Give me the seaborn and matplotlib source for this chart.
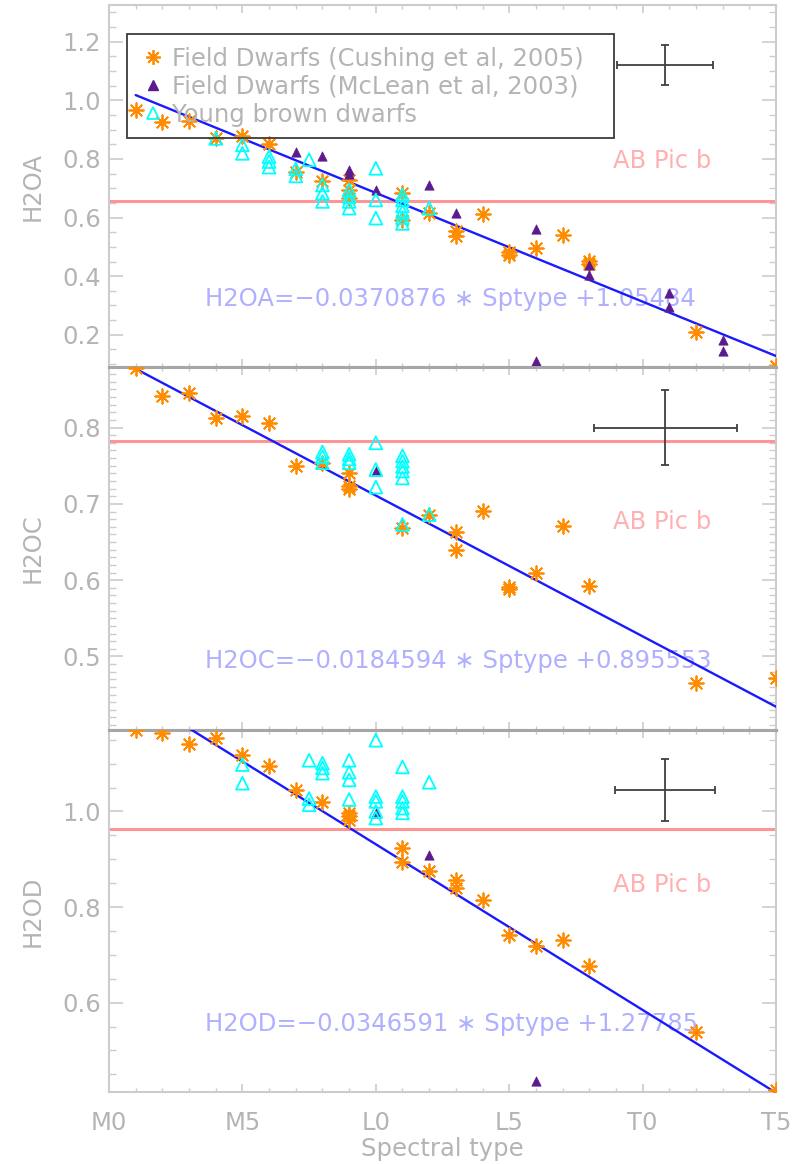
import numpy as np
import pandas as pd
import matplotlib
matplotlib.use("Agg")
import matplotlib.pyplot as plt
from matplotlib.patches import Rectangle
from matplotlib.lines import Line2D
from matplotlib.ticker import MultipleLocator, FormatStrFormatter
import seaborn as sns

sns.set_theme(style="white")
plt.rcParams["font.family"] = ["DejaVu Sans"]

# Spectral type axis: M0 = 0, L0 = 10, T0 = 20
spt_ticks = [0, 5, 10, 15, 20, 25]
spt_labels = ["M0", "M5", "L0", "L5", "T0", "T5"]
index_names = ["H2OA", "H2OC", "H2OD"]

# --- H2OA -------------------------------------------------------------
cush_a_x = [1, 2, 3, 4, 5, 6, 7, 8, 9, 9, 9, 11, 11, 12, 13, 13, 14, 15, 15, 16, 17, 18, 18, 22, 25]
cush_a_y = [0.967, 0.926, 0.930, 0.873, 0.879, 0.851, 0.757, 0.723, 0.728, 0.695, 0.668, 0.684, 0.592,
            0.616, 0.553, 0.538, 0.612, 0.483, 0.473, 0.496, 0.539, 0.452, 0.440, 0.211, 0.092]
mcl_a_x = [7, 8, 9, 9, 10, 12, 13, 16, 16, 18, 18, 21, 21, 23, 23]
mcl_a_y = [0.825, 0.810, 0.762, 0.748, 0.694, 0.711, 0.615, 0.560, 0.111, 0.438, 0.405, 0.343, 0.296,
           0.183, 0.145]
yng_a_x = [4, 5, 5, 6, 6, 6, 7, 7, 7.5, 8, 8, 8, 9, 9, 9, 9, 10, 10, 10, 11, 11, 11, 11, 11, 11, 12]
yng_a_y = [0.870, 0.848, 0.819, 0.808, 0.791, 0.772, 0.766, 0.742, 0.797, 0.711, 0.683, 0.655, 0.694,
           0.672, 0.655, 0.632, 0.768, 0.660, 0.598, 0.677, 0.660, 0.640, 0.620, 0.600, 0.580, 0.632]

# --- H2OC -------------------------------------------------------------
cush_c_x = [1, 2, 3, 4, 5, 6, 7, 8, 9, 9, 9, 11, 12, 13, 13, 14, 15, 15, 16, 17, 18, 22, 25]
cush_c_y = [0.878, 0.841, 0.846, 0.812, 0.815, 0.806, 0.749, 0.753, 0.741, 0.723, 0.720, 0.668, 0.686,
            0.663, 0.639, 0.691, 0.591, 0.588, 0.609, 0.671, 0.592, 0.465, 0.472]
mcl_c_x = [10]
mcl_c_y = [0.743]
yng_c_x = [8, 8, 8, 9, 9, 9, 10, 10, 10, 11, 11, 11, 11, 11, 11, 12]
yng_c_y = [0.768, 0.762, 0.754, 0.765, 0.759, 0.754, 0.780, 0.745, 0.722, 0.763, 0.756, 0.749, 0.743,
           0.734, 0.673, 0.686]

# --- H2OD -------------------------------------------------------------
cush_d_x = [1, 2, 3, 4, 5, 6, 7, 8, 9, 9, 9, 11, 11, 12, 13, 13, 14, 15, 16, 17, 18, 22, 25]
cush_d_y = [1.171, 1.164, 1.142, 1.154, 1.119, 1.096, 1.044, 1.019, 0.997, 0.990, 0.983, 0.923, 0.895,
            0.876, 0.857, 0.840, 0.815, 0.742, 0.719, 0.730, 0.677, 0.539, 0.417]
mcl_d_x = [10, 12, 16]
mcl_d_y = [0.997, 0.909, 0.435]
yng_d_x = [5, 5, 7.5, 7.5, 7.5, 8, 8, 8, 9, 9, 9, 9, 10, 10, 10, 10, 10, 11, 11, 11, 11, 11, 12]
yng_d_y = [1.098, 1.059, 1.107, 1.027, 1.014, 1.101, 1.091, 1.080, 1.107, 1.082, 1.066, 1.025, 1.149,
           1.031, 1.021, 1.000, 0.986, 1.093, 1.031, 1.021, 1.007, 0.997, 1.061]

# Linear fits of index vs spectral type
fit_slope = [-0.0370876, -0.0184594, -0.0346591]
fit_intercept = [1.05484, 0.895553, 1.27785]
fit_range = [1, 25]

# AB Pic b measured index values and representative uncertainty
abpic_value = [0.657, 0.782, 0.964]
err_x = 20.85
err_y = [1.119, 0.800, 1.044]
err_xerr = [1.80, 2.67, 1.87]
err_yerr = [0.068, 0.049, 0.065]

# Axis ranges and tick steps for each panel
y_limits = [(0.089, 1.325), (0.404, 0.879), (0.413, 1.171)]
y_major = [0.2, 0.1, 0.2]
y_minor = [0.05, 0.01, 0.05]
abpic_text_y = [0.794, 0.676, 0.846]
eq_text_y = [0.323, 0.494, 0.555]

panels = [
    (cush_a_x, cush_a_y, mcl_a_x, mcl_a_y, yng_a_x, yng_a_y),
    (cush_c_x, cush_c_y, mcl_c_x, mcl_c_y, yng_c_x, yng_c_y),
    (cush_d_x, cush_d_y, mcl_d_x, mcl_d_y, yng_d_x, yng_d_y),
]

ORANGE = "#ff8c00"
PURPLE = "#5b1a8e"
CYAN = "#00ffff"
FIT = "#1a1aff"
ABLINE = "#ff9494"
ABTEXT = "#ffb0b0"
EQTEXT = "#b0b0ff"
GREY_TXT = "#b4b4b4"
SPINE = "#cccccc"
INNER = "#a6a6a6"
FS = 17.5

W, H = 798, 1164
fig = plt.figure(figsize=(W / 100, H / 100), dpi=100)
gs = fig.add_gridspec(3, 1, left=109 / W, right=776 / W, top=1 - 5 / H,
                      bottom=1 - 1092 / H, hspace=0)

asterisk = (8, 2, 0)
axes = []
for i, (cx, cy, mx, my, yx, yy) in enumerate(panels):
    ax = fig.add_subplot(gs[i])
    axes.append(ax)
    ax.set_xlim(0, 25)
    ax.set_ylim(*y_limits[i])

    ax.axhline(abpic_value[i], color=ABLINE, lw=2.2, zorder=1)
    ax.text(20.73, abpic_text_y[i], "AB Pic b", color=ABTEXT, fontsize=FS,
            ha="center", va="center", zorder=1)
    eq = f"{index_names[i]}=\u2212{abs(fit_slope[i]):g} \u2217 Sptype +{fit_intercept[i]:g}"
    ax.text(3.6, eq_text_y[i], eq, color=EQTEXT, fontsize=FS, ha="left",
            va="center", zorder=1)

    fx = np.array(fit_range, dtype=float)
    fit_df = pd.DataFrame({"spt": fx, "idx": fit_slope[i] * fx + fit_intercept[i]})
    sns.lineplot(data=fit_df, x="spt", y="idx", color=FIT, lw=1.7, ax=ax, zorder=3)

    sns.scatterplot(x=cx, y=cy, marker=asterisk, color=ORANGE, s=110,
                    linewidth=1.3, ax=ax, zorder=4)
    sns.scatterplot(x=mx, y=my, marker="^", color=PURPLE, s=45,
                    edgecolor=PURPLE, linewidth=0.5, ax=ax, zorder=5)
    sns.scatterplot(x=yx, y=yy, marker="^", color=CYAN, s=85,
                    facecolor="none", edgecolor=CYAN, linewidth=1.3, ax=ax, zorder=6)

    ax.errorbar(err_x, err_y[i], xerr=err_xerr[i], yerr=err_yerr[i], fmt="none",
                ecolor="#404040", elinewidth=1.3, capsize=2.8, capthick=1.3, zorder=7)

    # ticks and frame
    ax.xaxis.set_major_locator(MultipleLocator(5))
    ax.xaxis.set_minor_locator(MultipleLocator(1))
    ax.yaxis.set_major_locator(MultipleLocator(y_major[i]))
    ax.yaxis.set_minor_locator(MultipleLocator(y_minor[i]))
    ax.yaxis.set_major_formatter(FormatStrFormatter("%.1f"))
    ax.tick_params(axis="both", which="both", direction="in", colors=SPINE,
                   labelcolor=GREY_TXT, labelsize=FS, top=True, right=True,
                   bottom=True, left=True)
    ax.tick_params(axis="y", which="major", length=10, width=1.2, pad=6)
    ax.tick_params(axis="y", which="minor", length=5, width=1.0)
    ax.tick_params(axis="x", which="major", length=5.5, width=1.2, pad=14)
    ax.tick_params(axis="x", which="minor", length=3, width=1.0)
    for side, sp in ax.spines.items():
        sp.set_color(SPINE)
        sp.set_linewidth(1.5)
    if i > 0:
        ax.spines["top"].set_color(INNER)
        ax.spines["top"].set_linewidth(2.2)
    if i < 2:
        ax.spines["bottom"].set_color(INNER)
        ax.spines["bottom"].set_linewidth(2.2)
        ax.set_xticklabels([])
        ax.set_xlabel("")
    else:
        ax.set_xticks(spt_ticks)
        ax.set_xticklabels(spt_labels)
        ax.set_xlabel("Spectral type", color=GREY_TXT, fontsize=FS, va="center")
        ax.xaxis.set_label_coords(0.5, -0.157)

    ax.set_ylabel(index_names[i], color=GREY_TXT, fontsize=FS, va="center")
    ax.yaxis.set_label_coords(-0.114, 0.5)
    ax.grid(False)

# Legend in the top panel
ax0 = axes[0]
handles = [
    Line2D([], [], ls="none", marker=asterisk, color=ORANGE, markersize=10.5, mew=1.3),
    Line2D([], [], ls="none", marker="^", color=PURPLE, markersize=6.7),
    Line2D([], [], ls="none", marker="^", mfc="none", mec=CYAN, markersize=9.2, mew=1.3),
]
labels = ["Field Dwarfs (Cushing et al, 2005)",
          "Field Dwarfs (McLean et al, 2003)",
          "Young brown dwarfs"]
leg = ax0.legend(handles, labels, loc="upper left", bbox_to_anchor=(0.039, 0.905),
                 frameon=False, fontsize=FS, labelcolor=GREY_TXT, handlelength=0.9,
                 handletextpad=0.33, labelspacing=0.17, borderaxespad=0,
                 borderpad=0.3)
leg.set_zorder(8)
ax0.add_patch(Rectangle((0.027, 0.633), 0.73, 0.287, transform=ax0.transAxes,
                        fill=False, edgecolor="#3c3c3c", lw=1.3, zorder=8))

fig.savefig("out.png", dpi=100)
